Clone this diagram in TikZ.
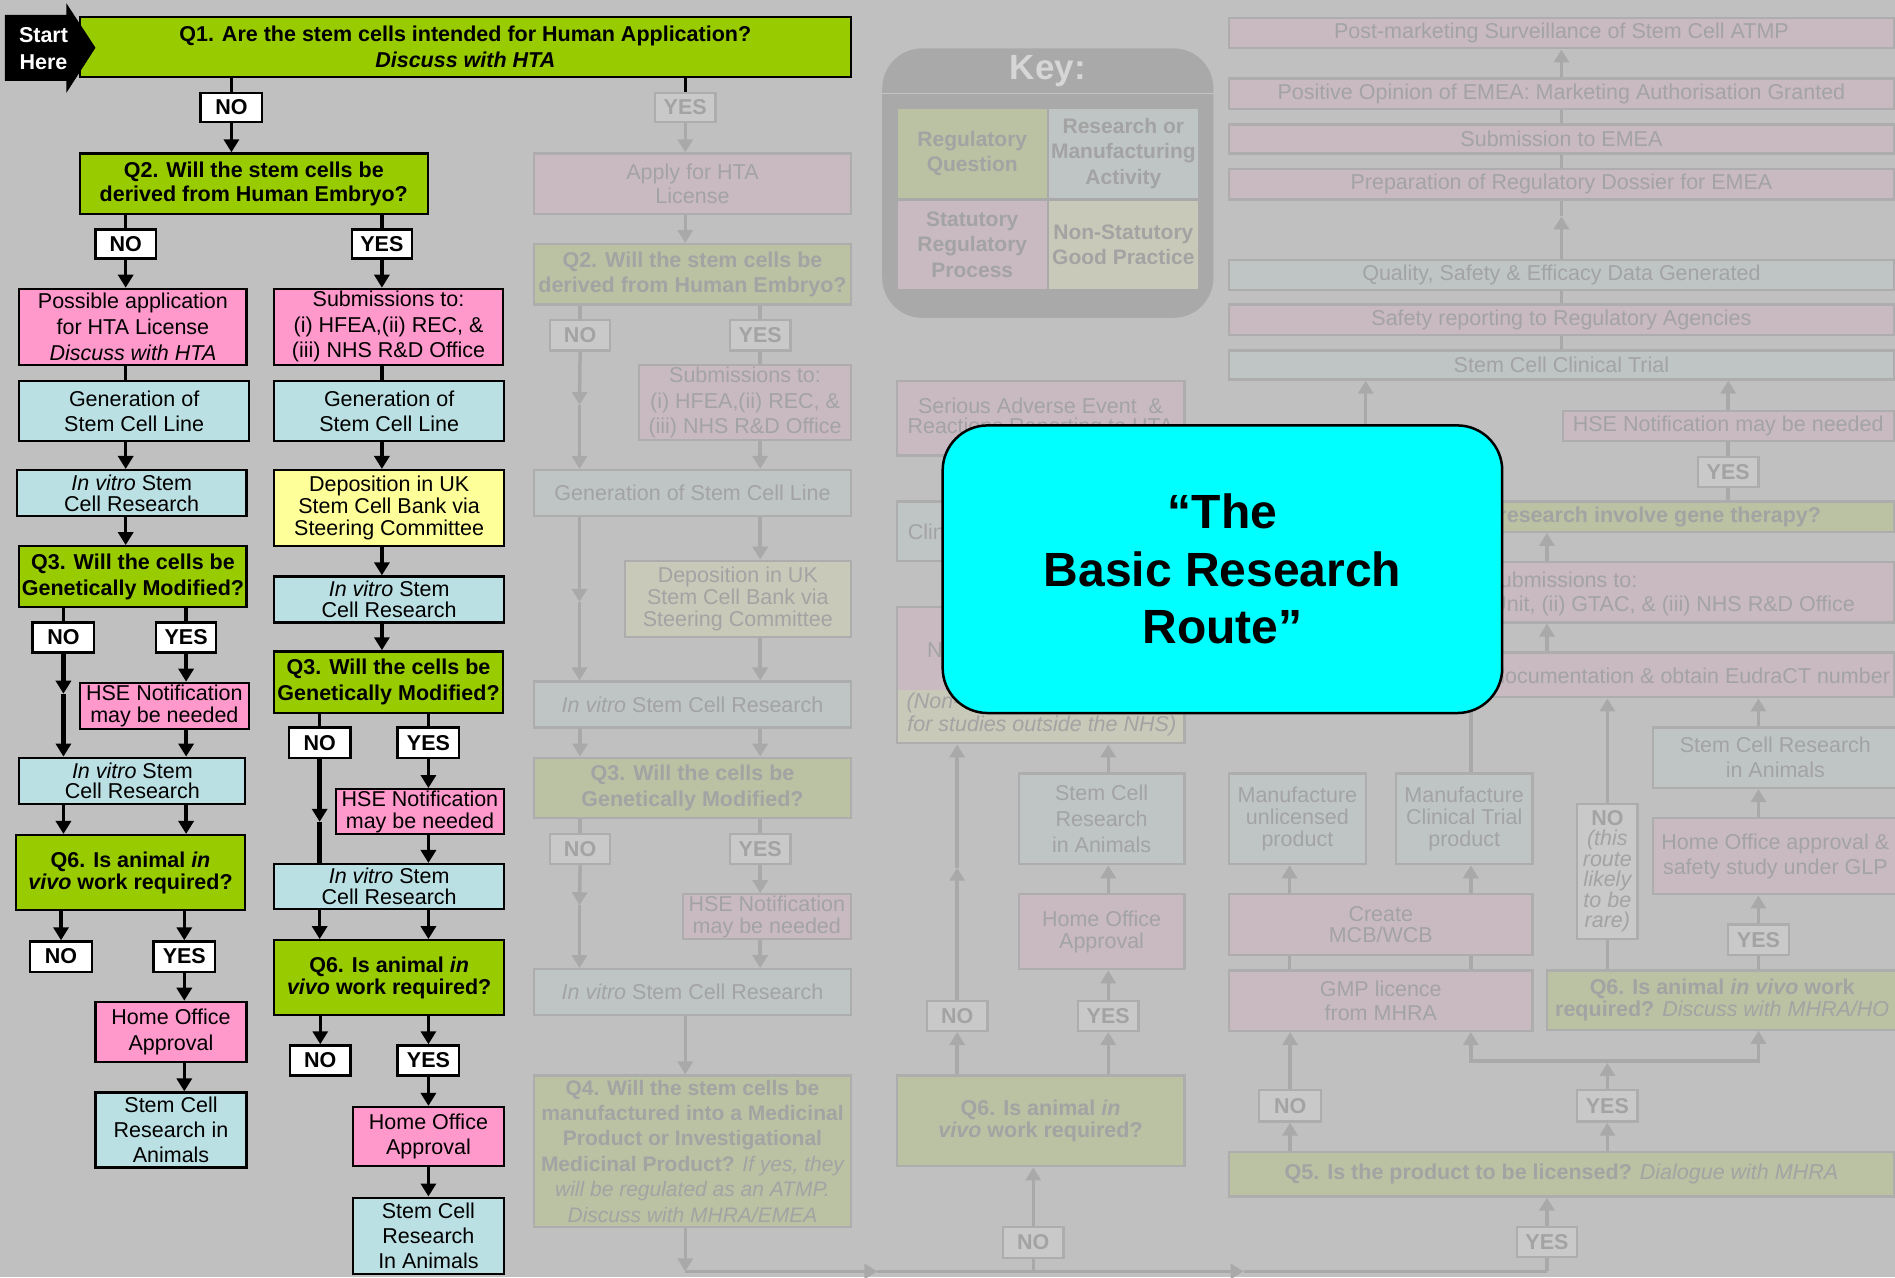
\documentclass[tikz,border=0pt]{standalone}
\usepackage{fontspec}
\setmainfont{Liberation Sans}
\usetikzlibrary{arrows.meta}

\definecolor{bg}{RGB}{192,192,192}
\definecolor{qgreen}{RGB}{153,204,0}
\definecolor{spink}{RGB}{255,153,204}
\definecolor{rblue}{RGB}{187,224,227}
\definecolor{gyellow}{RGB}{255,255,153}
\definecolor{routecyan}{RGB}{0,255,255}
\colorlet{fgreen}{qgreen!15!bg}
\colorlet{fpink}{spink!15!bg}
\colorlet{fblue}{rblue!15!bg}
\colorlet{fyellow}{gyellow!15!bg}
\colorlet{fwhite}{white!15!bg}
\colorlet{ftext}{black!15!bg}
\colorlet{fline}{black!10!bg}
\colorlet{farrow}{black!12!bg}
\colorlet{keygrey}{black!12!bg}
\definecolor{keytext}{RGB}{214,214,214}

\newcommand{\upx}{1.2086pt}
\newcommand{\fsz}[1]{\fontsize{21.5}{#1}\selectfont}
% box from corner (x1,y1) to (x2,y2)
\newcommand{\bx}[7]{\node[#2, minimum width={(#5-#3)*\upx}, minimum height={(#6-#4)*\upx}] (#1) at ({(#3+#5)/2},{(#4+#6)/2}) {#7};}

\tikzset{
  cbox/.style={draw, line width=2.3pt, inner sep=0pt, align=center, font=\fsz{25.5}},
  qbox/.style={cbox, fill=qgreen, font=\bfseries\fsz{26}},
  pbox/.style={cbox, fill=spink},
  bbox/.style={cbox, fill=rblue, font=\fsz{25}},
  ybox/.style={cbox, fill=gyellow, font=\fsz{21.8}},
  lbl/.style={cbox, fill=white, font=\bfseries\fsz{26}},
  fcbox/.style={draw=fline, line width=2.3pt, inner sep=0pt, align=center, text=ftext, font=\fsz{25.4}},
  fq/.style={fcbox, fill=fgreen, font=\bfseries\fsz{25.4}},
  fp/.style={fcbox, fill=fpink},
  fb/.style={fcbox, fill=fblue, font=\fsz{25}},
  fy/.style={fcbox, fill=fyellow, font=\fsz{21.7}},
  flbl/.style={fcbox, fill=fwhite, font=\bfseries\fsz{26}},
  kcell/.style={fcbox, draw=none, font=\bfseries\fontsize{21}{25.4}\selectfont},
  ftxt/.style={text=ftext, inner sep=0pt, font=\fsz{25}},
  conn/.style={line width=3.5pt},
  arr/.style={conn, -{Triangle[width=15pt,length=13pt]}},
  fconn/.style={draw=farrow, line width=3.5pt},
  farr/.style={fconn, -{Triangle[width=15pt,length=13pt]}},
  routebox/.style={draw, line width=2.5pt, fill=routecyan, rounded corners=45pt, inner sep=0pt, align=center, font=\bfseries\fontsize{48}{57.5}\selectfont}
}

\begin{document}
\begin{tikzpicture}[x=1.2086pt, y=-1.2086pt]
\useasboundingbox (0,0) rectangle (1568,1057);
\clip (0,0) rectangle (1568,1057);
\fill[bg] (0,0) rectangle (1568,1057);

% key
\fill[keygrey, rounded corners=40pt] (730,40) rectangle (1004,263);
\draw[keytext!60!keygrey, line width=1pt] (730,77) -- (1004,77);
\node[text=keytext, inner sep=0pt, font=\bfseries\fontsize{35}{40}\selectfont] (key) at (867,59) {Key:};
\bx{kq}{kcell, fill=fgreen}{743}{90}{866}{164}{Regulatory\\Question}
\bx{kr}{kcell, fill=fblue}{868}{90}{991}{164}{Research or\\Manufacturing\\Activity}
\bx{ks}{kcell, fill=fpink}{743}{166}{866}{239}{Statutory\\Regulatory\\Process}
\bx{kn}{kcell, fill=fyellow}{868}{166}{991}{239}{Non-Statutory\\Good Practice}

% faded middle column
\bx{fyes1}{flbl}{542}{77}{592}{101}{YES}
\bx{hta}{fp, font=\fsz{24}}{442}{127}{704}{177}{Apply for HTA\\License}
\bx{fq2}{fq}{442}{202}{704}{252}{Q2. Will the stem cells be\\derived from Human Embryo?}
\bx{fno2}{flbl}{455}{265}{505}{290}{NO}
\bx{fyes2}{flbl}{604}{265}{654}{290}{YES}
\bx{fsub}{fp}{529}{302}{704}{364}{Submissions to:\\(i) HFEA,(ii) REC, \&\\(iii) NHS R\&D Office}
\bx{fgen}{fb}{442}{389}{704}{427}{Generation of Stem Cell Line}
\bx{fdep}{fy}{517}{464}{704}{527}{Deposition in UK\\Stem Cell Bank via\\Steering Committee}
\bx{fiv1}{fb}{442}{564}{704}{602}{\textit{In vitro} Stem Cell Research}
\bx{fq3}{fq}{442}{627}{704}{677}{Q3. Will the cells be\\Genetically Modified?}
\bx{fno3}{flbl}{455}{690}{505}{715}{NO}
\bx{fyes3}{flbl}{604}{690}{654}{715}{YES}
\bx{fhse}{fp, font=\fsz{21.7}}{565}{740}{704}{777}{HSE Notification\\may be needed}
\bx{fiv2}{fb}{442}{802}{704}{840}{\textit{In vitro} Stem Cell Research}
\bx{fq4}{fq, font=\bfseries\fontsize{21}{25.4}\selectfont}{442}{890}{704}{1015}{Q4. Will the stem cells be\\manufactured into a Medicinal\\Product or Investigational\\Medicinal Product? {\mdseries\itshape If yes, they}\\{\mdseries\itshape will be regulated as an ATMP.}\\{\mdseries\itshape Discuss with MHRA/EMEA}}

% faded second column
\bx{sae}{fp, font=\fsz{20}}{742}{315}{980}{377}{Serious Adverse Event\ \ \&\\Reactions Reporting to HTA}
\bx{clin}{fb}{742}{415}{1000}{464}{}
\node[ftxt, anchor=west] (clintxt) at (751,440) {Clin};
\fill[fpink] (742,502) rectangle (980,571);
\fill[fyellow] (742,571) rectangle (980,615);
\bx{nhs}{fcbox}{742}{502}{980}{615}{}
\node[ftxt, anchor=west] (nhstxt) at (767,538) {N};
\node[ftxt, anchor=west, font=\itshape\fsz{25}] (nontxt) at (750,582) {(Non-};
\node[ftxt, font=\itshape\fsz{25}] (outtxt) at (862,601) {for studies outside the NHS)};
\bx{fsca}{fb, font=\fsz{26}}{843}{640}{980}{715}{Stem Cell\\Research\\in Animals}
\bx{fho}{fp, font=\fsz{21.7}}{843}{740}{980}{802}{Home Office\\Approval}
\bx{fno6}{flbl}{767}{828}{817}{853}{NO}
\bx{fyes6}{flbl}{892}{828}{942}{853}{YES}
\bx{fq6}{fq, font=\bfseries\fsz{21.7}}{742}{890}{980}{965}{Q6. Is animal \textit{in}\\\textit{vivo} work required?}
\bx{fno4}{flbl}{830}{1015}{880}{1041}{NO}

% faded right column
\bx{pms}{fp}{1017}{15}{1567}{40}{Post-marketing Surveillance of Stem Cell ATMP}
\bx{poe}{fp}{1017}{65}{1567}{90}{Positive Opinion of EMEA: Marketing Authorisation Granted}
\bx{sube}{fp}{1017}{103}{1567}{127}{Submission to EMEA}
\bx{prep}{fp}{1017}{140}{1567}{165}{Preparation of Regulatory Dossier for EMEA}
\bx{qsed}{fb}{1017}{215}{1567}{240}{Quality, Safety \& Efficacy Data Generated}
\bx{srep}{fp}{1017}{252}{1567}{277}{Safety reporting to Regulatory Agencies}
\bx{sct}{fb}{1017}{290}{1567}{314}{Stem Cell Clinical Trial}
\bx{hse2}{fp}{1293}{340}{1567}{365}{HSE Notification may be needed}
\bx{fyes7}{flbl}{1405}{378}{1455}{403}{YES}
\bx{gene}{fq}{1017}{415}{1567}{440}{}
\node[ftxt, anchor=east, font=\bfseries\fsz{25}] (genetxt) at (1507,427.5) {research involve gene therapy?};
\bx{gsub}{fp}{1017}{465}{1567}{515}{}
\node[ftxt] (gsubtxt) at (1292,480) {Submissions to:};
\node[ftxt, anchor=east] (gsubtxt2) at (1535,501) {Unit, (ii) GTAC, \& (iii) NHS R\&D Office};
\bx{doc}{fp}{1017}{540}{1567}{577}{}
\node[ftxt, anchor=east] (doctxt) at (1564,559) {documentation \& obtain EudraCT number};
\bx{mul}{fb, font=\fsz{21.8}}{1017}{640}{1130}{715}{Manufacture\\unlicensed\\product}
\bx{mct}{fb, font=\fsz{21.8}}{1155}{640}{1268}{715}{Manufacture\\Clinical Trial\\product}
\bx{fno7}{fcbox, fill=fwhite, font=\itshape\fsz{20.5}}{1305}{665}{1355}{777}{\textbf{\upshape NO}\\(this\\route\\likely\\to be\\rare)}
\bx{scar}{fb}{1368}{602}{1570}{652}{Stem Cell Research\\in Animals}
\bx{hoar}{fp}{1368}{677}{1570}{740}{Home Office approval \&\\safety study under GLP}
\bx{fyes8}{flbl}{1430}{765}{1480}{790}{YES}
\bx{cmcb}{fp, font=\fsz{21.8}}{1017}{740}{1268}{790}{Create\\MCB/WCB}
\bx{gmp}{fp, font=\fsz{23.6}}{1017}{803}{1268}{853}{GMP licence\\from MHRA}
\bx{fq6r}{fq, font=\bfseries\fsz{22}}{1280}{803}{1570}{852}{Q6. Is animal \textit{in vivo} work\\required? {\mdseries\itshape Discuss with MHRA/HO}}
\bx{fno5}{flbl}{1042}{902}{1093}{928}{NO}
\bx{fyes5}{flbl}{1305}{902}{1355}{928}{YES}
\bx{fq5}{fq}{1017}{953}{1567}{990}{Q5. Is the product to be licensed? {\mdseries\itshape Dialogue with MHRA}}
\bx{fyes9}{flbl}{1255}{1015}{1305}{1040}{YES}

% column positions
\coordinate (cT) at (1292,0);
\coordinate (cU) at (1280,0);
\coordinate (cV) at (1217,0);
\coordinate (cW) at (1067,0);
\coordinate (cZ) at (1455,0);
\coordinate (fm1) at (479.5,335);
\coordinate (fm2) at (479.5,498);
\coordinate (fm3) at (479.5,749);
\coordinate (fm4) at (792,718);
\coordinate (rm1) at (1292,179);
\coordinate (rc1) at (1130,370);
\coordinate (rc2) at (1217,580);
\coordinate (bl) at (567,1052);
\coordinate (ba1) at (726,1052);
\coordinate (ba2) at (1029,1052);
\coordinate (br) at (1280,1052);
\coordinate (bb1) at (1217,878);
\coordinate (bb2) at (1455,878);
\coordinate (bb3) at (1330,879.5);

% faded connectors, middle
\draw[farr] (fyes1.south) -- (hta.north -| fyes1);
\draw[farr] (hta.south -| fyes1) -- (fq2.north -| fyes1);
\draw[fconn] (fq2.south -| fno2) -- (fno2.north);
\draw[fconn] (fq2.south -| fyes2) -- (fyes2.north);
\draw[farr] (fno2.south) -- (fm1);
\draw[farr] (fm1) -- (fgen.north -| fm1);
\draw[fconn] (fyes2.south) -- (fsub.north -| fyes2);
\draw[farr] (fsub.south -| fyes2) -- (fgen.north -| fyes2);
\draw[farr] (fgen.south -| fm2) -- (fm2);
\draw[farr] (fm2) -- (fiv1.north -| fm2);
\draw[farr] (fgen.south -| fyes2) -- (fdep.north -| fyes2);
\draw[farr] (fdep.south -| fyes2) -- (fiv1.north -| fyes2);
\draw[farr] (fiv1.south -| fno2) -- (fq3.north -| fno2);
\draw[farr] (fiv1.south -| fyes2) -- (fq3.north -| fyes2);
\draw[fconn] (fq3.south -| fno3) -- (fno3.north);
\draw[fconn] (fq3.south -| fyes3) -- (fyes3.north);
\draw[farr] (fno3.south) -- (fm3);
\draw[farr] (fm3) -- (fiv2.north -| fm3);
\draw[farr] (fyes3.south) -- (fhse.north -| fyes3);
\draw[farr] (fhse.south -| fyes3) -- (fiv2.north -| fyes3);
\draw[farr] (fiv2.south -| fyes1) -- (fq4.north -| fyes1);
\draw[farr] (fq4.south -| fyes1) -- (bl);
\draw[farr] (bl) -- (ba1);
\draw[farr] (ba1) -- (ba2);
\draw[fconn] (ba2) -- (br);
\draw[fconn] (bl -| fno4) -- (fno4.south);
\draw[farr] (fno4.north) -- (fq6.south -| fno4);
\draw[fconn] (br) -- (fyes9.south);
\draw[farr] (fyes9.north) -- (fq5.south -| fyes9);

% faded connectors, second column
\draw[farr] (fq6.north -| fno6) -- (fno6.south);
\draw[farr] (fno6.north) -- (fm4);
\draw[farr] (fm4) -- (nhs.south -| fm4);
\draw[farr] (fq6.north -| fyes6) -- (fyes6.south);
\draw[farr] (fyes6.north) -- (fho.south -| fyes6);
\draw[farr] (fho.north -| fyes6) -- (fsca.south -| fyes6);
\draw[farr] (fsca.north -| fyes6) -- (nhs.south -| fyes6);

% faded connectors, right column
\draw[farr] (poe.north -| cT) -- (pms.south -| cT);
\draw[fconn] (sube.north -| cT) -- (poe.south -| cT);
\draw[fconn] (prep.north -| cT) -- (sube.south -| cT);
\draw[farr] (qsed.north -| cT) -- (rm1);
\draw[fconn] (rm1) -- (prep.south -| cT);
\draw[fconn] (srep.north -| cT) -- (qsed.south -| cT);
\draw[fconn] (sct.north -| cT) -- (srep.south -| cT);
\draw[farr] (rc1) -- (sct.south -| rc1);
\draw[farr] (hse2.north -| fyes7) -- (sct.south -| fyes7);
\draw[fconn] (fyes7.north) -- (hse2.south -| fyes7);
\draw[fconn] (gene.north -| fyes7) -- (fyes7.south);
\draw[farr] (gsub.north -| cU) -- (gene.south -| cU);
\draw[farr] (doc.north -| cU) -- (gsub.south -| cU);
\draw[farr] (fno7.north) -- (doc.south -| fno7);
\draw[farr] (scar.north -| cZ) -- (doc.south -| cZ);
\draw[farr] (hoar.north -| cZ) -- (scar.south -| cZ);
\draw[farr] (fyes8.north) -- (hoar.south -| fyes8);
\draw[fconn] (fq6r.north -| fyes8) -- (fyes8.south);
\draw[fconn] (fq6r.north -| fno7) -- (fno7.south);
\draw[fconn] (rc2) -- (mct.north -| rc2);
\draw[farr] (cmcb.north -| cW) -- (mul.south -| cW);
\draw[farr] (cmcb.north -| cV) -- (mct.south -| cV);
\draw[fconn] (gmp.north -| cW) -- (cmcb.south -| cW);
\draw[fconn] (gmp.north -| cV) -- (cmcb.south -| cV);
\draw[farr] (fno5.north) -- (gmp.south -| fno5);
\draw[farr] (fq5.north -| fno5) -- (fno5.south);
\draw[farr] (fq5.north -| fyes5) -- (fyes5.south);
\draw[farr] (fyes5.north) -- (bb3);
\draw[fconn, line cap=rect] (bb1) -- (bb2);
\draw[farr] (bb1) -- (gmp.south -| bb1);
\draw[farr] (bb2) -- (fq6r.south -| bb2);

% active route, left
\bx{q1}{qbox}{66}{14}{704}{64}{Q1. Are the stem cells intended for Human Application?\\\textit{Discuss with HTA}}
\bx{no1}{lbl}{166}{77}{217}{101}{NO}
\bx{q2}{qbox, font=\bfseries\fsz{24}}{66}{127}{354}{177}{Q2. Will the stem cells be\\derived from Human Embryo?}
\bx{no2}{lbl}{79}{190}{129}{214}{NO}
\bx{yes2}{lbl}{291}{190}{341}{214}{YES}
\bx{poss}{pbox, font=\fsz{26}}{16}{239}{204}{302}{Possible application\\for HTA License\\\textit{Discuss with HTA}}
\bx{subm}{pbox}{227}{239}{416}{302}{Submissions to:\\(i) HFEA,(ii) REC, \&\\(iii) NHS R\&D Office}
\bx{genA}{bbox}{16}{315}{206}{365}{Generation of\\Stem Cell Line}
\bx{genB}{bbox}{227}{315}{417}{365}{Generation of\\Stem Cell Line}
\bx{ivA1}{bbox, font=\fsz{20.5}}{14}{389}{204}{427}{\textit{In vitro} Stem\\Cell Research}
\bx{dep}{ybox}{227}{389}{417}{452}{Deposition in UK\\Stem Cell Bank via\\Steering Committee}
\bx{q3A}{qbox}{16}{452}{204}{502}{Q3. Will the cells be\\Genetically Modified?}
\bx{ivB1}{bbox, font=\fsz{20.5}}{227}{477}{417}{515}{\textit{In vitro} Stem\\Cell Research}
\bx{noA3}{lbl}{27}{515}{78}{540}{NO}
\bx{yesA3}{lbl}{129}{515}{179}{540}{YES}
\bx{hseA}{pbox, font=\fsz{21.8}}{66}{565}{206}{603}{HSE Notification\\may be needed}
\bx{q3B}{qbox}{227}{539}{416}{590}{Q3. Will the cells be\\Genetically Modified?}
\bx{noB3}{lbl}{239}{602}{290}{627}{NO}
\bx{yesB3}{lbl}{329}{602}{380}{627}{YES}
\bx{ivA2}{bbox, font=\fsz{20.5}}{16}{627}{203}{665}{\textit{In vitro} Stem\\Cell Research}
\bx{hseB}{pbox, font=\fsz{21.8}}{278}{653}{417}{690}{HSE Notification\\may be needed}
\bx{q6A}{qbox, font=\bfseries\fsz{21.8}}{13}{691}{203}{753}{Q6. Is animal \textit{in}\\\textit{vivo} work required?}
\bx{ivB2}{bbox, font=\fsz{20.5}}{227}{715}{417}{752}{\textit{In vitro} Stem\\Cell Research}
\bx{noA6}{lbl}{25}{779}{76}{804}{NO}
\bx{yesA6}{lbl}{127}{779}{178}{804}{YES}
\bx{q6B}{qbox, font=\bfseries\fsz{21.8}}{227}{778}{417}{840}{Q6. Is animal \textit{in}\\\textit{vivo} work required?}
\bx{hoA}{pbox}{79}{829}{204}{879}{Home Office\\Approval}
\bx{noB6}{lbl}{240}{865}{290}{890}{NO}
\bx{yesB6}{lbl}{329}{865}{380}{890}{YES}
\bx{scaA}{bbox}{79}{904}{204}{966}{Stem Cell\\Research in\\Animals}
\bx{hoB}{pbox}{292}{916}{417}{965}{Home Office\\Approval}
\bx{scaB}{bbox}{292}{991}{417}{1054}{Stem Cell\\Research\\In Animals}

\coordinate (mA) at (52.5,574);
\coordinate (mB) at (264.5,680);

\draw[conn] (q1.south -| no1) -- (no1.north);
\draw[arr] (no1.south) -- (q2.north -| no1);
\draw[conn] (q1.south -| fyes1) -- (fyes1.north);
\draw[conn] (q2.south -| no2) -- (no2.north);
\draw[arr] (no2.south) -- (poss.north -| no2);
\draw[conn] (q2.south -| yes2) -- (yes2.north);
\draw[arr] (yes2.south) -- (subm.north -| yes2);
\draw[conn] (poss.south -| no2) -- (genA.north -| no2);
\draw[arr] (genA.south -| no2) -- (ivA1.north -| no2);
\draw[arr] (ivA1.south -| no2) -- (q3A.north -| no2);
\draw[conn] (subm.south -| yes2) -- (genB.north -| yes2);
\draw[arr] (genB.south -| yes2) -- (dep.north -| yes2);
\draw[arr] (dep.south -| yes2) -- (ivB1.north -| yes2);
\draw[arr] (ivB1.south -| yes2) -- (q3B.north -| yes2);
\draw[conn] (q3A.south -| noA3) -- (noA3.north);
\draw[arr, line width=5pt] (noA3.south) -- (mA);
\draw[arr, line width=5pt] (mA) -- (ivA2.north -| mA);
\draw[conn] (q3A.south -| yesA3) -- (yesA3.north);
\draw[arr] (yesA3.south) -- (hseA.north -| yesA3);
\draw[arr] (hseA.south -| yesA3) -- (ivA2.north -| yesA3);
\draw[arr] (ivA2.south -| noA3) -- (q6A.north -| noA3);
\draw[arr] (ivA2.south -| yesA3) -- (q6A.north -| yesA3);
\draw[arr] (q6A.south -| noA6) -- (noA6.north);
\draw[arr] (q6A.south -| yesA6) -- (yesA6.north);
\draw[arr] (yesA6.south) -- (hoA.north -| yesA6);
\draw[arr] (hoA.south -| yesA6) -- (scaA.north -| yesA6);
\draw[conn] (q3B.south -| noB3) -- (noB3.north);
\draw[arr, line width=4.5pt] (noB3.south) -- (mB);
\draw[line width=4.5pt] (mB) -- (ivB2.north -| mB);
\draw[conn] (q3B.south -| yesB3) -- (yesB3.north);
\draw[arr] (yesB3.south) -- (hseB.north -| yesB3);
\draw[arr] (hseB.south -| yesB3) -- (ivB2.north -| yesB3);
\draw[arr] (ivB2.south -| noB3) -- (q6B.north -| noB3);
\draw[arr] (ivB2.south -| yesB3) -- (q6B.north -| yesB3);
\draw[arr] (q6B.south -| noB6) -- (noB6.north);
\draw[arr] (q6B.south -| yesB6) -- (yesB6.north);
\draw[arr] (yesB6.south) -- (hoB.north -| yesB6);
\draw[arr] (hoB.south -| yesB6) -- (scaB.north -| yesB6);

% start marker
\fill (4,12.4) -- (55,12.4) -- (55,2.8) -- (79,39.5) -- (55,76.7) -- (55,67) -- (4,67) -- cycle;
\node[text=white, inner sep=0pt, align=center, font=\bfseries\fsz{26.6}] (start) at (36,40) {Start\\Here};

% title panel
\bx{route}{routebox}{780}{352}{1243}{590}{``The\\Basic Research\\Route''}
\end{tikzpicture}
\end{document}
